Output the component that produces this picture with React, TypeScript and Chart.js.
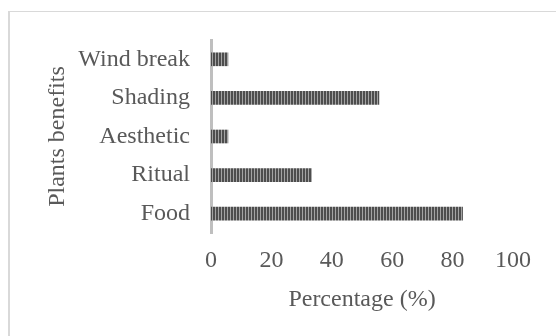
import React, { useEffect, useRef } from "react";
import { Chart, registerables } from "chart.js";

Chart.register(...registerables);

const categories = ["Wind break", "Shading", "Aesthetic", "Ritual", "Food"];
const percentages = [5.6, 55.6, 5.6, 33.3, 83.3];
const xTicks = [0, 20, 40, 60, 80, 100];
const xTitle = "Percentage (%)";
const yTitle = "Plants benefits";

const FONT = "'Liberation Serif', 'Times New Roman', serif";
const TEXT = "#595959";
const SIZE = 24;

export default function App() {
  const ref = useRef<HTMLCanvasElement | null>(null);

  useEffect(() => {
    const canvas = ref.current;
    if (!canvas) return;
    const ctx = canvas.getContext("2d")!;

    const pc = document.createElement("canvas");
    pc.width = 3;
    pc.height = 1;
    const pctx = pc.getContext("2d")!;
    pctx.fillStyle = "#4d4d4d";
    pctx.fillRect(0, 0, 2, 1);
    pctx.fillStyle = "#a3a3a3";
    pctx.fillRect(2, 0, 1, 1);
    const pattern = ctx.createPattern(pc, "repeat")!;

    const chart = new Chart(ctx, {
      type: "bar",
      data: {
        labels: categories,
        datasets: [
          {
            data: percentages,
            backgroundColor: pattern as any,
            borderWidth: 0,
            barThickness: 13,
          },
        ],
      },
      options: {
        indexAxis: "y",
        animation: false,
        responsive: false,
        maintainAspectRatio: false,
        layout: { padding: { left: 0, right: 43, top: 40, bottom: 0 } },
        plugins: {
          legend: { display: false },
          tooltip: { enabled: false },
        },
        scales: {
          x: {
            type: "linear",
            min: 0,
            max: 100,
            afterBuildTicks: (axis: any) => {
              axis.ticks = xTicks.map((v) => ({ value: v }));
            },
            grid: { display: false, drawTicks: false },
            border: { display: false },
            ticks: {
              color: TEXT,
              padding: 13,
              font: { family: FONT, size: SIZE },
              maxRotation: 0,
            },
            title: {
              display: true,
              text: xTitle,
              color: TEXT,
              font: { family: FONT, size: SIZE },
              padding: { top: 0, bottom: 22 },
            },
            afterFit: (axis: any) => {
              axis.height = 103;
            },
          },
          y: {
            type: "category",
            grid: { display: false, drawTicks: false },
            border: { display: true, color: "#bfbfbf", width: 3 },
            ticks: {
              color: TEXT,
              padding: 21,
              font: { family: FONT, size: SIZE },
            },
            title: {
              display: true,
              text: yTitle,
              color: TEXT,
              font: { family: FONT, size: SIZE },
              padding: { top: 43, bottom: 0 },
            },
            afterFit: (axis: any) => {
              axis.width = 211;
            },
          },
        },
      },
    });
    return () => chart.destroy();
  }, []);

  return (
    <div
      style={{
        position: "fixed",
        left: 0,
        top: 0,
        width: 556,
        height: 336,
        background: "#ffffff",
        overflow: "hidden",
      }}
    >
      <div
        style={{
          position: "absolute",
          left: 8,
          top: 11,
          width: 700,
          height: 500,
          borderLeft: "2px solid #d9d9d9",
          borderTop: "1px solid #d9d9d9",
        }}
      />
      <canvas
        ref={ref}
        width={556}
        height={336}
        style={{ position: "absolute", left: 0, top: 0, width: 556, height: 336 }}
      />
    </div>
  );
}
